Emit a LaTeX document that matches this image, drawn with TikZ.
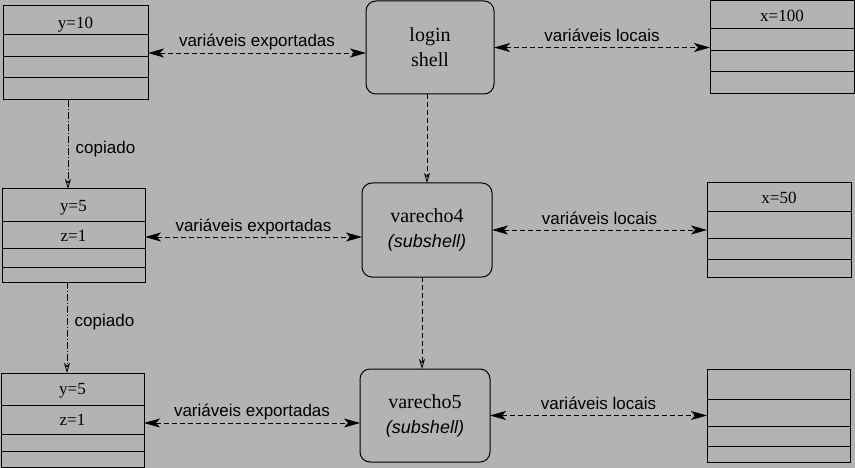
\documentclass[tikz,border=0pt]{standalone}
\usepackage{fontspec}
\setmainfont{Liberation Serif}
\setsansfont{Liberation Sans}
\usepackage{tikz}
\usetikzlibrary{calc, arrows.meta, fit}
\definecolor{paper}{RGB}{179,179,179}

\begin{document}
\begin{tikzpicture}[x=1pt, y=-1pt]

    \tikzstyle{row}=[draw, line width=1pt, inner sep=0pt, outer sep=0pt, text depth=0pt, font=\fontsize{17}{20}\selectfont];
    \tikzstyle{shell}=[draw, line width=1pt, rounded corners=10pt, align=center, outer sep=0pt, font=\fontsize{20}{25}\selectfont];
    \tikzstyle{lbl}=[font=\sffamily\fontsize{17}{20}\selectfont, text depth=4pt];
    \tikzstyle{link}=[{Stealth[length=16pt, width=9pt, inset=4pt]}-{Stealth[length=16pt, width=9pt, inset=4pt]}, line width=0.9pt, dash pattern=on 5pt off 3pt];
    \tikzstyle{down}=[-{Stealth[open, length=10pt, width=6pt, inset=3pt]}, line width=0.8pt, dash pattern=on 5pt off 3pt];
    \tikzstyle{copy}=[-{Stealth[open, length=10pt, width=6pt, inset=3pt]}, line width=0.8pt, dash pattern=on 7pt off 2pt on 1pt off 2pt];

    \useasboundingbox (0, 0) rectangle (855, 468);
    \fill[paper] (0, 0) rectangle (855, 468);

    % variaveis do login shell
    \node[minimum width=145pt, minimum height=29pt, text height=17pt] (a1) at (75.5, 20.5) [row] {y=10};
    \node[minimum width=145pt, minimum height=22pt] (a2) at ($(a1)+(0, 25.5)$) [row] {};
    \node[minimum width=145pt, minimum height=21pt] (a3) at ($(a2)+(0, 21.5)$) [row] {};
    \node[minimum width=145pt, minimum height=22pt] (a4) at ($(a3)+(0, 21.5)$) [row] {};
    \node[fit=(a1)(a4), inner sep=0pt, outer sep=0pt] (A) {};

    \node[minimum width=144pt, minimum height=28pt, text height=14pt] (r1) at (782, 15) [row] {x=100};
    \node[minimum width=144pt, minimum height=22pt] (r2) at ($(r1)+(0, 25)$) [row] {};
    \node[minimum width=144pt, minimum height=21pt] (r3) at ($(r2)+(0, 21.5)$) [row] {};
    \node[minimum width=144pt, minimum height=22pt] (r4) at ($(r3)+(0, 21.5)$) [row] {};
    \node[fit=(r1)(r4), inner sep=0pt, outer sep=0pt] (R) {};

    % varecho4
    \node[minimum width=143pt, minimum height=33pt] (b1) at (73.5, 205.5) [row] {y=5};
    \node[minimum width=143pt, minimum height=27pt] (b2) at ($(b1)+(0, 30)$) [row] {z=1};
    \node[minimum width=143pt, minimum height=18pt] (b3) at ($(b2)+(0, 22.5)$) [row] {};
    \node[minimum width=143pt, minimum height=15pt] (b4) at ($(b3)+(0, 16.5)$) [row] {};
    \node[fit=(b1)(b4), inner sep=0pt, outer sep=0pt] (B) {};

    \node[minimum width=144pt, minimum height=29pt] (s1) at (779, 197.5) [row] {x=50};
    \node[minimum width=144pt, minimum height=27pt] (s2) at ($(s1)+(0, 28)$) [row] {};
    \node[minimum width=144pt, minimum height=20pt] (s3) at ($(s2)+(0, 23.5)$) [row] {};
    \node[minimum width=144pt, minimum height=18pt] (s4) at ($(s3)+(0, 19)$) [row] {};
    \node[fit=(s1)(s4), inner sep=0pt, outer sep=0pt] (S) {};

    % varecho5
    \node[minimum width=143pt, minimum height=32pt] (c1) at (72.5, 389) [row] {y=5};
    \node[minimum width=143pt, minimum height=29pt] (c2) at ($(c1)+(0, 30.5)$) [row] {z=1};
    \node[minimum width=143pt, minimum height=17pt] (c3) at ($(c2)+(0, 23)$) [row] {};
    \node[minimum width=143pt, minimum height=16pt] (c4) at ($(c3)+(0, 16.5)$) [row] {};
    \node[fit=(c1)(c4), inner sep=0pt, outer sep=0pt] (C) {};

    \node[minimum width=143pt, minimum height=30pt] (t1) at (778.5, 384) [row] {};
    \node[minimum width=143pt, minimum height=27pt] (t2) at ($(t1)+(0, 28.5)$) [row] {};
    \node[minimum width=143pt, minimum height=20pt] (t3) at ($(t2)+(0, 23.5)$) [row] {};
    \node[minimum width=143pt, minimum height=16pt] (t4) at ($(t3)+(0, 18)$) [row] {};
    \node[fit=(t1)(t4), inner sep=0pt, outer sep=0pt] (T) {};

    % shells
    \node[minimum width=128pt, minimum height=93pt] (login) at (430, 47.5) [shell] {login\\shell};
    \node[minimum width=130pt, minimum height=94pt] (v4) at (427, 230) [shell] {varecho4\\{\sffamily\itshape\fontsize{18}{20}\selectfont (subshell)}};
    \node[minimum width=130pt, minimum height=93pt] (v5) at (425, 415.5) [shell] {varecho5\\{\sffamily\itshape\fontsize{18}{20}\selectfont (subshell)}};

    \draw (A.east) edge[link] node [above, lbl, yshift=-1.5pt] {variáveis exportadas} (A.east -| login.west);
    \draw (login.east) edge[link] node [above, lbl, yshift=-1.5pt] {variáveis locais} (login.east -| R.west);

    \draw ([yshift=-1.5pt]B.east) edge[link] node [above, lbl, yshift=-2pt] {variáveis exportadas} ([yshift=-1.5pt]B.east -| v4.west);
    \draw (v4.east) edge[link] node [above, lbl, yshift=-2pt] {variáveis locais} (v4.east -| S.west);

    \draw ([yshift=-3pt]C.east) edge[link] node [above, lbl, yshift=-1.5pt] {variáveis exportadas} ([yshift=-3pt]C.east -| v5.west);
    \draw (v5.east) edge[link] node [above, lbl, yshift=-1.5pt] {variáveis locais} (v5.east -| T.west);

    \draw ([xshift=-7.5pt]A.south) edge[copy] node [right, lbl, pos=0.55, xshift=4pt] {copiado} ([xshift=-7.5pt]A.south |- B.north);
    \draw ([xshift=-6.5pt]B.south) edge[copy] node [right, lbl, pos=0.44, xshift=4pt] {copiado} ([xshift=-6.5pt]B.south |- C.north);

    \draw (login.south -| v4.north) edge[down] (v4.north);
    \draw ([xshift=-5pt]v4.south) edge[down] ([xshift=-5pt]v4.south |- v5.north);

\end{tikzpicture}
\end{document}
